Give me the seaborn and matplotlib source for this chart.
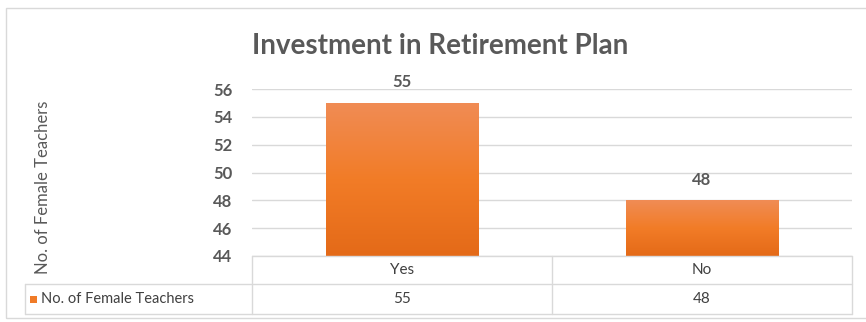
import matplotlib
matplotlib.use("Agg")
import matplotlib.pyplot as plt
import seaborn as sns
import numpy as np
import pandas as pd
from matplotlib.colors import LinearSegmentedColormap
from matplotlib.patches import Rectangle

categories = ["Yes", "No"]
values = [55, 48]
series_name = "No. of Female Teachers"
title = "Investment in Retirement Plan"
y_label = "No. of Female Teachers"
y_ticks = [44, 46, 48, 50, 52, 54, 56]

sns.set_theme(style="white")
plt.rcParams['font.family'] = ['Lato', 'DejaVu Sans']

W, H = 866, 322
fig = plt.figure(figsize=(W / 100, H / 100), dpi=100)
fig.patch.set_facecolor("white")

def fx(px):
    return px / W

def fy(py):
    return 1 - py / H

# outer chart frame
fig.add_artist(Rectangle((fx(6), fy(318)), fx(866) - fx(6) + 0.01, fy(8) - fy(318),
                         transform=fig.transFigure, fill=False, edgecolor="#D9D9D9", lw=1.0))

left, right, top, bottom = 252, 852, 89, 256
ax = fig.add_axes([fx(left), fy(bottom), fx(right) - fx(left), fy(top) - fy(bottom)])

df = pd.DataFrame({"cat": categories, "val": values})
sns.barplot(data=df, x="cat", y="val", ax=ax, color="#F07B28", width=0.51, saturation=1)
ax.set_ylim(y_ticks[0], y_ticks[-1])
ax.set_yticks(y_ticks)
ax.yaxis.grid(True, color="#D9D9D9", lw=1.0)
ax.set_axisbelow(True)
for s in ax.spines.values():
    s.set_visible(False)
ax.set_xlabel("")
ax.set_ylabel("")
ax.set_xticks([])
ax.tick_params(axis="y", length=0, pad=14, labelsize=12, labelcolor="#595959")
for lbl in ax.get_yticklabels():
    lbl.set_fontweight("bold")

cmap = LinearSegmentedColormap.from_list("og", ["#E46A18", "#F27C27", "#F08C55"])
grad = np.linspace(0, 1, 256).reshape(-1, 1)
for p in list(ax.patches):
    x0, y0 = p.get_x(), p.get_y()
    w, h = p.get_width(), p.get_height()
    y0c = max(y0, y_ticks[0])
    im = ax.imshow(grad, extent=[x0, x0 + w, y0c, y0 + h], origin="lower",
                   cmap=cmap, aspect="auto", zorder=3)
    im.set_clip_path(p)
    p.set_edgecolor("none")
    ax.text(x0 + w / 2, y0 + h + 0.9, str(int(y0 + h)), ha="center", va="bottom",
            fontsize=12, fontweight="bold", color="#595959", zorder=4)
ax.set_xlim(-0.5, len(categories) - 0.5)

# title
fig.text(fx(440), fy(46), title, ha="center", va="center", fontsize=20,
         fontweight="bold", color="#595959")
# y label
fig.text(fx(43), fy(187), y_label, ha="center", va="center", rotation=90,
         fontsize=12, color="#595959")

# data table
tc = "#D9D9D9"
row1_top, row1_bot, row2_bot = 256, 284, 314
col_x = [left, left + (right - left) / 2, right]
legend_left = 25
def hline(x0, x1, y):
    fig.add_artist(plt.Line2D([fx(x0), fx(x1)], [fy(y), fy(y)], color=tc, lw=1.0,
                              transform=fig.transFigure))
def vline(x, y0, y1):
    fig.add_artist(plt.Line2D([fx(x), fx(x)], [fy(y0), fy(y1)], color=tc, lw=1.0,
                              transform=fig.transFigure))
hline(left, right, row1_top)
hline(legend_left, right, row1_bot)
hline(legend_left, right, row2_bot)
for x in col_x:
    vline(x, row1_top, row2_bot)
vline(legend_left, row1_bot, row2_bot)

for i, c in enumerate(categories):
    xc = (col_x[i] + col_x[i + 1]) / 2
    fig.text(fx(xc), fy((row1_top + row1_bot) / 2), c, ha="center", va="center",
             fontsize=11, color="#404040")
    fig.text(fx(xc), fy((row1_bot + row2_bot) / 2), str(values[i]), ha="center",
             va="center", fontsize=11, color="#404040")
fig.add_artist(Rectangle((fx(30), fy(303)), fx(7), fy(296) - fy(303),
                         transform=fig.transFigure, color="#F07B28", lw=0))
fig.text(fx(41), fy((row1_bot + row2_bot) / 2), series_name, ha="left", va="center",
         fontsize=10.5, color="#404040")

fig.savefig("out.png", dpi=100, facecolor="white")
